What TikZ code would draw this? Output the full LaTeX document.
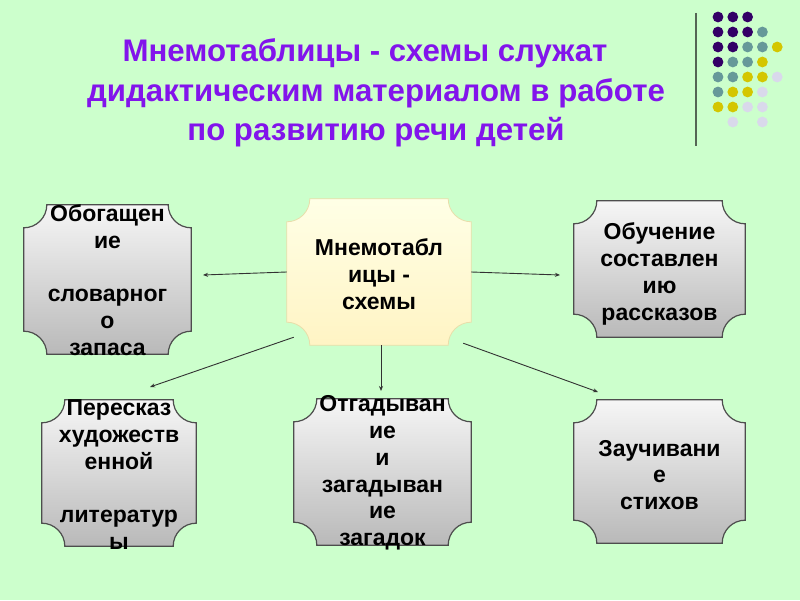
\documentclass[tikz,border=0pt]{standalone}
\usepackage{fontspec}
\setmainfont{Liberation Sans}
\usetikzlibrary{arrows.meta,calc,backgrounds}
\definecolor{bgc}{RGB}{204,255,204}
\definecolor{titlec}{RGB}{130,20,235}
\definecolor{dotp}{RGB}{51,0,102}
\definecolor{dott}{RGB}{102,153,153}
\definecolor{doty}{RGB}{212,198,0}
\definecolor{dotg}{RGB}{217,217,235}
\definecolor{linec}{RGB}{85,102,85}
\definecolor{grayedge}{RGB}{77,77,77}
\definecolor{graytop}{RGB}{246,246,246}
\definecolor{graybot}{RGB}{185,185,185}
\definecolor{ytop}{RGB}{255,255,230}
\definecolor{ybot}{RGB}{255,244,196}
\definecolor{yedge}{RGB}{232,222,170}
\definecolor{conc}{RGB}{50,50,50}
\newcommand\plaque[2]{%
  \path[#2] let \p1=(#1.north west), \p2=(#1.south east) in
    ({\x1+23pt},\y1) -- ({\x2-23pt},\y1) arc[start angle=180,end angle=270,radius=23pt]
    -- (\x2,{\y2+23pt}) arc[start angle=90,end angle=180,radius=23pt]
    -- ({\x1+23pt},\y2) arc[start angle=0,end angle=90,radius=23pt]
    -- (\x1,{\y1-23pt}) arc[start angle=270,end angle=360,radius=23pt] -- cycle;}
\tikzset{
  boxnode/.style={inner sep=0pt, draw=none},
  boxtext/.style={align=center, inner sep=0pt, text=black,
    font=\fontsize{23}{26.7}\selectfont\bfseries},
  graybox/.style={draw=grayedge, line width=1.2pt, top color=graytop, bottom color=graybot},
  yelbox/.style={draw=yedge, line width=0.8pt, top color=ytop, bottom color=ybot},
  titletext/.style={anchor=base, inner sep=0pt, text=titlec,
    font=\fontsize{31.2}{37}\selectfont\bfseries},
  conn/.style={draw=conc, line width=0.9pt, -{Stealth[length=5pt,width=4pt]}},
}
\begin{document}
\begin{tikzpicture}[x=1pt,y=1pt]
\useasboundingbox (0,0) rectangle (800,600);
\begin{scope}[on background layer]
  \fill[bgc] (0,0) rectangle (800,600);
\end{scope}
% decoration: vertical line and dot grid
\draw[linec, line width=2pt] (696,587) -- (696,454);
\foreach \i/\j in {0/0,1/0,2/0,0/1,1/1,2/1,0/2,1/2,0/3}
  \fill[dotp] ({718+14.8*\i},{600-17-15*\j}) circle (5.4);
\foreach \i/\j in {3/1,2/2,3/2,1/3,2/3,0/4,1/4,0/5}
  \fill[dott] ({718+14.8*\i},{600-17-15*\j}) circle (5.4);
\foreach \i/\j in {4/2,3/3,2/4,3/4,1/5,2/5,0/6,1/6}
  \fill[doty] ({718+14.8*\i},{600-17-15*\j}) circle (5.4);
\foreach \i/\j in {4/4,3/5,2/6,3/6,1/7,3/7}
  \fill[dotg] ({718+14.8*\i},{600-17-15*\j}) circle (5.4);
% title
\node[titletext] (t1) at (365,538) {Мнемотаблицы - схемы служат};
\node[titletext] (t2) at (376,498) {дидактическим материалом в работе};
\node[titletext] (t3) at (376,459) {по развитию речи детей};
% boxes
\node[boxnode, minimum width=184pt, minimum height=146pt] (c) at (379,328) {};
\node[boxnode, minimum width=167pt, minimum height=149pt] (b1) at (107.5,320.5) {};
\node[boxnode, minimum width=171pt, minimum height=136pt] (b2) at (659.5,331) {};
\node[boxnode, minimum width=154pt, minimum height=146pt] (b3) at (119,127) {};
\node[boxnode, minimum width=177pt, minimum height=146pt] (b4) at (382.5,128) {};
\node[boxnode, minimum width=171pt, minimum height=143pt] (b5) at (659.5,128.5) {};
\begin{scope}[on background layer]
  \plaque{c}{yelbox}
  \plaque{b1}{graybox}
  \plaque{b2}{graybox}
  \plaque{b3}{graybox}
  \plaque{b4}{graybox}
  \plaque{b5}{graybox}
\end{scope}
\node[boxtext] (tc) at (379,326) {Мнемотабл\\ицы -\\схемы};
\node[boxtext] (tb1) at (107.5,320) {Обогащен\\ие\\\mbox{}\\словарног\\о\\запаса};
\node[boxtext] (tb2) at (659.5,326) {Обучение\\составлен\\ию\\рассказов};
\node[boxtext] (tb3) at (119,125.5) {Пересказ\\художеств\\енной\\\mbox{}\\литератур\\ы};
\node[boxtext] (tb4) at (382.5,127) {Отгадыван\\ие\\и\\загадыван\\ие\\загадок};
\node[boxtext] (tb5) at (659.5,125) {Заучивани\\е\\стихов};
% connectors
\coordinate (e1) at (203,325);
\coordinate (e2) at (560,325);
\coordinate (e3) at (598,208);
\coordinate (e4) at (150,213);
\coordinate (e5) at (381,209);
\draw[conn] (c.west) -- (e1);
\draw[conn] (c.east) -- (e2);
\draw[conn] ($(c.south east)+(-8,2)$) -- (e3);
\draw[conn] ($(c.south west)+(7,8)$) -- (e4);
\draw[conn] ($(c.south)+(2,0)$) -- (e5);
\end{tikzpicture}
\end{document}
